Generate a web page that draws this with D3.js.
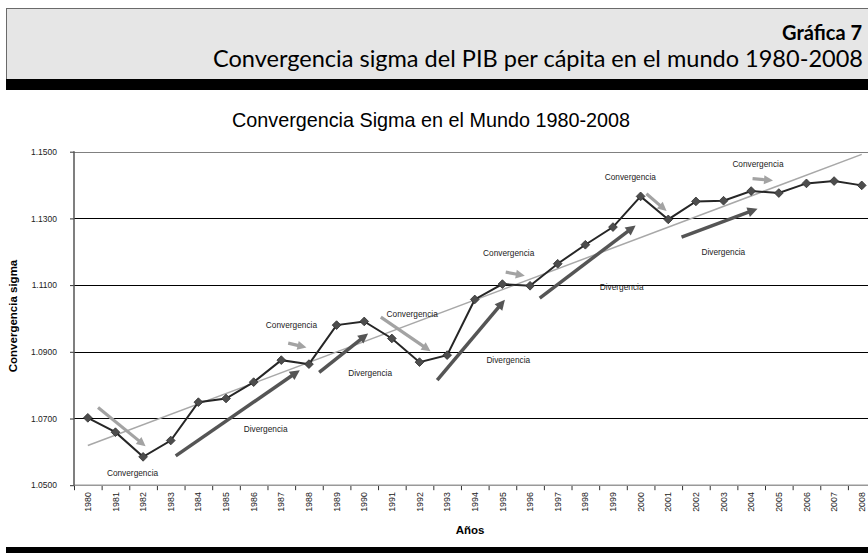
<!DOCTYPE html>
<html>
<head>
<meta charset="utf-8">
<script src="https://cdn.jsdelivr.net/npm/d3@7/dist/d3.min.js"></script>
<style>
  body { margin: 0; background: #fff; }
  svg { display: block; }
</style>
</head>
<body>
<script>
// data
var years = [1980, 1981, 1982, 1983, 1984, 1985, 1986, 1987, 1988, 1989,
             1990, 1991, 1992, 1993, 1994, 1995, 1996, 1997, 1998, 1999,
             2000, 2001, 2002, 2003, 2004, 2005, 2006, 2007, 2008];
var sigma = [1.0702, 1.0659, 1.0585, 1.0634, 1.0749, 1.0760, 1.0809, 1.0875, 1.0863, 1.0980,
             1.0991, 1.0940, 1.0869, 1.0890, 1.1057, 1.1103, 1.1098, 1.1164, 1.1221, 1.1274,
             1.1366, 1.1297, 1.1351, 1.1353, 1.1382, 1.1376, 1.1405, 1.1412, 1.1399];
var trendYears = [1980, 2008];
var trendValues = [1.0619, 1.1492];
var yTicks = [1.05, 1.07, 1.09, 1.11, 1.13, 1.15];

// arrows: [year1, value1, year2, value2]
var convArrows = [
  [1980.37, 1.0733, 1982.09, 1.0617],
  [1987.25, 1.0926, 1987.91, 1.0913],
  [1990.60, 1.1004, 1992.40, 1.0902],
  [1995.12, 1.1139, 1995.81, 1.1128],
  [2000.21, 1.1374, 2000.94, 1.1322],
  [2004.05, 1.1419, 2004.79, 1.1414]
];
var divArrows = [
  [1983.18, 1.0588, 1987.67, 1.0845],
  [1988.37, 1.0838, 1990.14, 1.0955],
  [1992.64, 1.0815, 1995.09, 1.1056],
  [1996.35, 1.1061, 1999.82, 1.1279],
  [2001.48, 1.1244, 2004.23, 1.1329]
];
var labelText  = ['Convergencia', 'Divergencia', 'Convergencia', 'Convergencia', 'Divergencia', 'Divergencia',
                  'Convergencia', 'Divergencia', 'Convergencia', 'Divergencia', 'Convergencia'];
var labelYear  = [1980.69, 1985.64, 1986.44, 1990.81, 1989.42, 1994.42, 1994.30, 1998.52, 1998.70, 2002.20, 2003.32];
var labelValue = [1.0537, 1.0669, 1.0979, 1.1012, 1.0837, 1.0875, 1.1197, 1.1094, 1.1424, 1.1199, 1.1464];

var W = 868, H = 553;
var plotLeft = 74, plotTop = 151.7, plotBottom = 485.2, bandW = 27.64;

var svg = d3.select('body').append('svg')
  .attr('width', W).attr('height', H);

// header box
svg.append('rect').attr('x', 6.5).attr('y', 8.5).attr('width', 880).attr('height', 71)
  .attr('fill', '#e6e6e6').attr('stroke', '#6a6a6a').attr('stroke-width', 1);
svg.append('rect').attr('x', 6).attr('y', 79).attr('width', 880).attr('height', 11).attr('fill', '#000');
svg.append('rect').attr('x', 6).attr('y', 547).attr('width', 880).attr('height', 6).attr('fill', '#000');

svg.append('text').attr('x', 862).attr('y', 40)
  .attr('text-anchor', 'end')
  .style('font-family', 'Lato, "Noto Sans", sans-serif').style('font-weight', 'bold')
  .style('font-size', '20px').text('Gráfica 7');
svg.append('text').attr('x', 863).attr('y', 67)
  .attr('text-anchor', 'end')
  .attr('textLength', 650).attr('lengthAdjust', 'spacingAndGlyphs')
  .style('font-family', 'Lato, "Noto Sans", sans-serif')
  .style('font-size', '23px').text('Convergencia sigma del PIB per cápita en el mundo 1980-2008');

// chart title
svg.append('text').attr('x', 431).attr('y', 127)
  .attr('text-anchor', 'middle')
  .style('font-family', '"Liberation Sans", Arial, sans-serif')
  .style('font-size', '19.8px').text('Convergencia Sigma en el Mundo 1980-2008');

var x = d3.scaleBand().domain(years).range([plotLeft, plotLeft + bandW * years.length]);
var y = d3.scaleLinear().domain([1.05, 1.15]).range([plotBottom, plotTop]);
var xPos = d3.scaleLinear()
  .domain([years[0], years[years.length - 1]])
  .range([x(years[0]) + bandW / 2, x(years[years.length - 1]) + bandW / 2]);

var g = svg.append('g');

// gridlines
g.selectAll('.grid').data(yTicks.slice(1)).enter().append('line')
  .attr('x1', plotLeft).attr('x2', plotLeft + bandW * years.length)
  .attr('y1', function(d){ return Math.round(y(d)) + 0.5; })
  .attr('y2', function(d){ return Math.round(y(d)) + 0.5; })
  .attr('stroke', function(d){ return d === 1.15 ? '#808080' : '#000'; })
  .attr('stroke-width', 1);

// y axis
var yAxis = g.append('g').attr('transform', 'translate(' + plotLeft + ',0)')
  .call(d3.axisLeft(y).tickValues(yTicks).tickFormat(d3.format('.4f')).tickSize(4).tickPadding(13));
yAxis.select('.domain').remove();
yAxis.selectAll('line').attr('stroke', '#333');
yAxis.selectAll('text').style('font-family', '"Liberation Sans", Arial, sans-serif')
  .style('font-size', '8.5px').attr('fill', '#222');

// x axis
var xAxis = g.append('g').attr('transform', 'translate(0,' + plotBottom + ')')
  .call(d3.axisBottom(x).tickSize(0).tickPadding(0));
xAxis.select('.domain').remove();
xAxis.selectAll('text')
  .attr('transform', 'rotate(-90)')
  .attr('x', -7).attr('y', 0).attr('dy', '0.35em')
  .attr('text-anchor', 'end')
  .style('font-family', '"Liberation Sans", Arial, sans-serif')
  .style('font-size', '8.8px').attr('fill', '#222');
g.selectAll('.xtick').data(years).enter().append('line')
  .attr('x1', function(d){ return x(d) + 0.5; })
  .attr('x2', function(d){ return x(d) + 0.5; })
  .attr('y1', plotBottom).attr('y2', plotBottom + 5)
  .attr('stroke', '#333');

g.append('line').attr('x1', plotLeft).attr('x2', plotLeft + bandW * years.length)
  .attr('y1', plotBottom).attr('y2', plotBottom)
  .attr('stroke', '#999').attr('stroke-width', 1.5);
g.append('line').attr('x1', plotLeft).attr('x2', plotLeft)
  .attr('y1', plotTop - 0.5).attr('y2', plotBottom + 0.5)
  .attr('stroke', '#555').attr('stroke-width', 1.5);

// axis titles
svg.append('text')
  .attr('transform', 'translate(17,316) rotate(-90)')
  .attr('text-anchor', 'middle')
  .style('font-family', '"Liberation Sans", Arial, sans-serif').style('font-weight', 'bold')
  .style('font-size', '11.5px').text('Convergencia sigma');
svg.append('text').attr('x', 470).attr('y', 534)
  .attr('text-anchor', 'middle')
  .style('font-family', '"Liberation Sans", Arial, sans-serif').style('font-weight', 'bold')
  .style('font-size', '11.5px').text('Años');

// trend line
g.append('line')
  .attr('x1', xPos(trendYears[0])).attr('y1', y(trendValues[0]))
  .attr('x2', xPos(trendYears[1])).attr('y2', y(trendValues[1]))
  .attr('stroke', '#a8a8a8').attr('stroke-width', 1.5);

// arrows
var drawArrows = function(list, color, width, head){
  list.forEach(function(a){
    var x1 = xPos(a[0]), y1 = y(a[1]), x2 = xPos(a[2]), y2 = y(a[3]);
    var dx = x2 - x1, dy = y2 - y1, len = Math.sqrt(dx * dx + dy * dy);
    var ux = dx / len, uy = dy / len;
    var bx = x2 - ux * head, by = y2 - uy * head;
    g.append('line')
      .attr('x1', x1).attr('y1', y1).attr('x2', bx + ux).attr('y2', by + uy)
      .attr('stroke', color).attr('stroke-width', width);
    var hw = head * 0.5;
    g.append('path')
      .attr('d', 'M' + x2 + ',' + y2 +
                 'L' + (bx - uy * hw) + ',' + (by + ux * hw) +
                 'L' + (bx + uy * hw) + ',' + (by - ux * hw) + 'Z')
      .attr('fill', color);
  });
};
drawArrows(convArrows, '#a3a3a3', 3.2, 9);
drawArrows(divArrows, '#555555', 3.5, 10);

// labels
g.selectAll('.lbl').data(labelText).enter().append('text')
  .attr('x', function(d, i){ return xPos(labelYear[i]); })
  .attr('y', function(d, i){ return y(labelValue[i]); })
  .attr('dy', '0.35em')
  .style('font-family', '"Liberation Sans", Arial, sans-serif')
  .style('font-size', '8.3px').attr('fill', '#222')
  .text(function(d){ return d; });

// series line and markers
var line = d3.line()
  .x(function(d, i){ return x(years[i]) + bandW / 2; })
  .y(function(d){ return y(d); });
g.append('path').datum(sigma)
  .attr('d', line).attr('fill', 'none')
  .attr('stroke', '#262626').attr('stroke-width', 2);

g.selectAll('.pt').data(sigma).enter().append('path')
  .attr('d', d3.symbol().type(d3.symbolSquare).size(38))
  .attr('transform', function(d, i){
    return 'translate(' + (x(years[i]) + bandW / 2) + ',' + y(d) + ') rotate(45)';
  })
  .attr('fill', '#4d4d4d').attr('stroke', '#333').attr('stroke-width', 0.8);
</script>
</body>
</html>
